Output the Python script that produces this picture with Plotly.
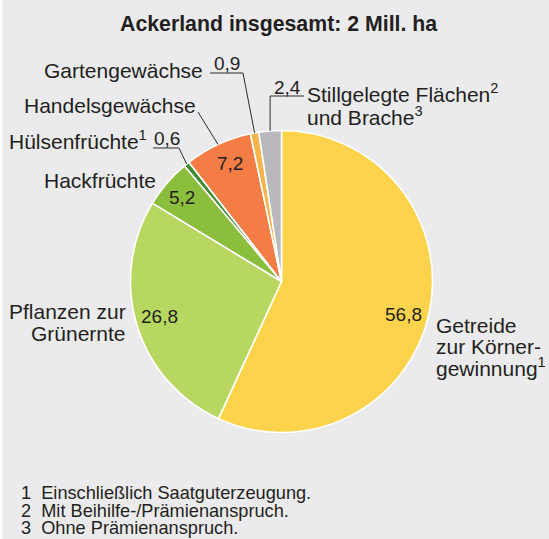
import math
import plotly.graph_objects as go

# ---- data ----
categories = ["Getreide zur Körnergewinnung", "Pflanzen zur Grünernte", "Hackfrüchte",
              "Hülsenfrüchte", "Handelsgewächse", "Gartengewächse",
              "Stillgelegte Flächen und Brache"]
values = [56.8, 26.8, 5.2, 0.6, 7.2, 0.9, 2.4]
value_labels = ["56,8", "26,8", "5,2", "0,6", "7,2", "0,9", "2,4"]
colors = ["#FDD34B", "#B8D761", "#8BBE3D", "#3E8B33", "#F47D45", "#F9B44B", "#B8B9BD"]
title_text = "<b>Ackerland insgesamt: 2 Mill. ha</b>"
footnotes = ["Einschließlich Saatguterzeugung.", "Mit Beihilfe-/Prämienanspruch.",
             "Ohne Prämienanspruch."]

# ---- layout constants (pixels) ----
W, H = 549, 539
CX, CY, R = 281.5, 281.5, 151
BG = "#EBEBED"
TXT = "#231F20"
FONT = "Liberation Sans, Arial, Helvetica, sans-serif"
LBL = 21


def px(x):
    return x / W


def py(y):
    return 1 - y / H


fig = go.Figure()
fig.add_trace(go.Pie(
    labels=categories, values=values, sort=False, direction="clockwise", rotation=0,
    marker=dict(colors=colors, line=dict(color="white", width=1.6)),
    textinfo="none", hoverinfo="label+value", showlegend=False,
    domain=dict(x=[px(CX - R), px(CX + R)], y=[py(CY + R), py(CY - R)]),
))

total = sum(values)
starts = []
acc = 0.0
for v in values:
    starts.append(acc)
    acc += v
mids = [(s + v / 2) / total * 360 for s, v in zip(starts, values)]


def polar(angle_deg, r):
    a = math.radians(angle_deg)
    return CX + r * math.sin(a), CY - r * math.cos(a)


annotations = []
shapes = []


def text(x, y, s, size=LBL, xanchor="left", yanchor="middle", color=TXT):
    annotations.append(dict(x=px(x), y=py(y), xref="paper", yref="paper", text=s,
                            showarrow=False, xanchor=xanchor, yanchor=yanchor,
                            borderpad=0,
                            font=dict(family=FONT, size=size, color=color)))


def line(x0, y0, x1, y1):
    shapes.append(dict(type="line", xref="paper", yref="paper",
                       x0=px(x0), y0=py(y0), x1=px(x1), y1=py(y1),
                       line=dict(color="#2B2B2B", width=1)))


# inside value labels (index, radius, angle offset)
inside = [(0, 126, 3.0), (1, 127, 1.0), (2, 130, -0.3), (4, 129, 1.5)]
for i, r, off in inside:
    x, y = polar(mids[i] + off, r)
    text(x, y, value_labels[i], size=19, xanchor="center")

# title
text(278, 24, title_text, size=21.3, xanchor="center")

# Gartengewächse 0,9
rx, ry = polar(mids[5], R)
text(204, 71, "Gartengewächse", xanchor="right")
text(213, 64, value_labels[5], size=19)
line(210, 73, 243, 73)
line(243, 73, rx, ry)

# Stillgelegte 2,4
rx, ry = polar(mids[6], R)
text(287, 88, value_labels[6], size=19, xanchor="center")
line(rx, 96, 304, 96)
line(rx, 96, rx, ry)
text(306, 93, "Stillgelegte Flächen<sup>2</sup>")
text(306, 116, "und Brache<sup>3</sup>")

# Handelsgewächse
rx, ry = polar(mids[4], R)
text(197, 106, "Handelsgewächse", xanchor="right")
line(198, 112, rx, ry)

# Hülsenfrüchte 0,6
rx, ry = polar(mids[3], R)
text(148, 140, "Hülsenfrüchte<sup>1</sup>", xanchor="right")
text(153, 139, value_labels[3], size=19)
line(153, 148, 179, 148)
line(179, 148, rx, ry)

# Hackfrüchte
text(157, 180, "Hackfrüchte", xanchor="right")

# Pflanzen zur Grünernte
text(127, 311, "Pflanzen zur", xanchor="right")
text(127, 333, "Grünernte", xanchor="right")

# Getreide
text(435, 325, "Getreide")
text(435, 346, "zur Körner-")
text(435, 367, "gewinnung<sup>1</sup>")

# footnotes
for k, note in enumerate(footnotes):
    y = 493 + k * 17.5
    text(20, y, f"{k + 1}\u00a0\u00a0{note}", size=18.2)

# thin white strip on the left edge
shapes.append(dict(type="rect", xref="paper", yref="paper", x0=0, x1=px(2.5), y0=0, y1=1,
                   fillcolor="white", line=dict(width=0), layer="below"))

fig.update_layout(
    width=W, height=H, margin=dict(l=0, r=0, t=0, b=0),
    paper_bgcolor=BG, plot_bgcolor=BG,
    annotations=annotations, shapes=shapes,
)

fig.write_html("out.html", config={"displayModeBar": False},
               post_script="document.body.style.margin='0';document.body.style.overflow='hidden';")
